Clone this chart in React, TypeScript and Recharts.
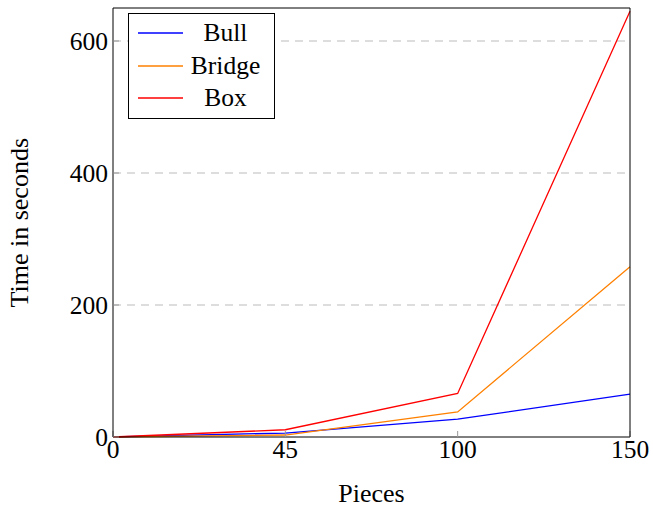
import { CartesianGrid, Line, LineChart, XAxis, YAxis } from "recharts";

const pieces = ["0", "45", "100", "150"];
const bull = [0, 6, 27, 65];
const bridge = [0, 3, 38, 258];
const box = [0, 11, 66, 645];
const yTicks = [0, 200, 400, 600];
const gridValues = [200, 400, 600];

const data = pieces.map((p, i) => ({ pieces: p, bull: bull[i], bridge: bridge[i], box: box[i] }));

const series = [
  { key: "bull", name: "Bull", color: "#0000ff" },
  { key: "bridge", name: "Bridge", color: "#ff8000" },
  { key: "box", name: "Box", color: "#ff0000" },
];

const font = "'Liberation Serif', 'DejaVu Serif', serif";

function LegendBox() {
  return (
    <div style={{ position: "absolute", left: 128, top: 13, boxSizing: "border-box", border: "1px solid #000", background: "#fff", padding: "3px 6px 3px 9px", width: 147, fontFamily: font }}>
      {series.map((s) => (
        <div key={s.key} style={{ display: "flex", alignItems: "center", height: 32.5 }}>
          <svg width={45} height={6} style={{ flexShrink: 0 }}>
            <line x1={0} y1={3} x2={45} y2={3} stroke={s.color} strokeWidth={1.4} />
          </svg>
          <div style={{ flex: 1, textAlign: "center", fontSize: 25.5, lineHeight: "30px", color: "#000" }}>{s.name}</div>
        </div>
      ))}
    </div>
  );
}

export default function App() {
  const tick = { fill: "#000", fontSize: 25.5, fontFamily: font };
  return (
    <div style={{ position: "absolute", left: 0, top: 0, width: 653, height: 508, background: "#fff" }}>
      <LineChart width={653} height={508} data={data} margin={{ top: 7, right: 22, bottom: 0, left: 53 }}>
        <CartesianGrid horizontal vertical={false} horizontalValues={gridValues} stroke="#bbb" strokeDasharray="8 6" />
        <XAxis
          dataKey="pieces"
          tick={tick}
          stroke="#000"
          tickLine={{ stroke: "#999" }}
          tickSize={-6}
          tickMargin={9}
          height={71}
          label={{ value: "Pieces", position: "insideBottom", offset: 6, fill: "#000", fontSize: 26, fontFamily: font }}
        />
        <XAxis xAxisId="top" dataKey="pieces" orientation="top" tick={false} stroke="#000" tickLine={{ stroke: "#999" }} tickSize={-6} height={1} />
        <YAxis
          domain={[0, 650]}
          ticks={yTicks}
          tick={tick}
          stroke="#000"
          tickLine={{ stroke: "#999" }}
          tickSize={-6}
          tickMargin={11}
          width={60}
          label={{ value: "Time in seconds", angle: -90, position: "insideLeft", offset: -34, dy: 85, fill: "#000", fontSize: 26, fontFamily: font }}
        />
        <YAxis yAxisId="right" orientation="right" domain={[0, 650]} ticks={yTicks} tick={false} stroke="#000" tickLine={{ stroke: "#999" }} tickSize={-6} width={1} />
        {series.map((s) => (
          <Line key={s.key} type="linear" dataKey={s.key} name={s.name} stroke={s.color} strokeWidth={1.3} dot={false} isAnimationActive={false} />
        ))}
      </LineChart>
      <LegendBox />
    </div>
  );
}
